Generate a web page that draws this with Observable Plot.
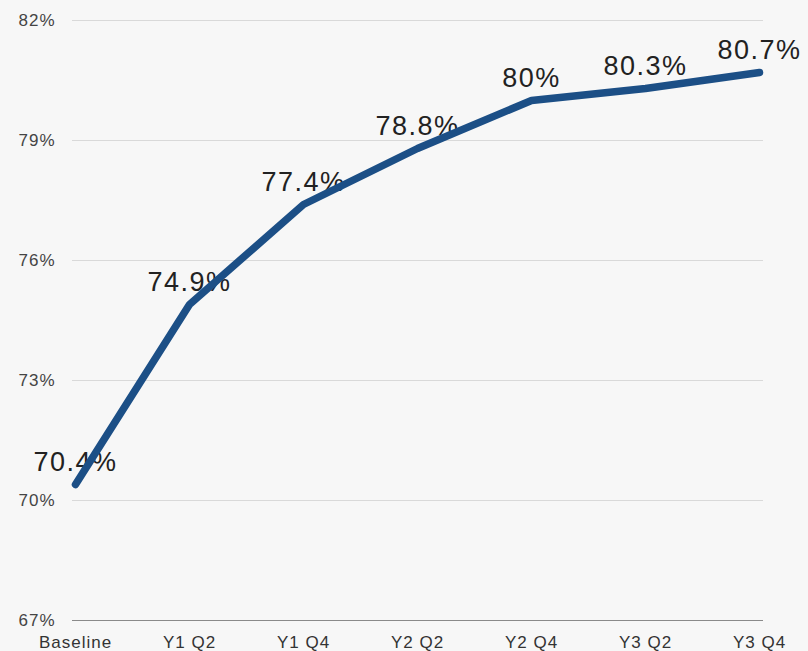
<!DOCTYPE html>
<html>
<head>
<meta charset="utf-8">
<script src="https://cdn.jsdelivr.net/npm/d3@7"></script>
<script src="https://cdn.jsdelivr.net/npm/@observablehq/plot@0.6"></script>
<style>
  html, body { margin: 0; padding: 0; background: #f7f7f7; }
  #chart svg { display: block; background: #f7f7f7; }
  .ticks-x text, .ticks-y text { letter-spacing: 1px; }
  .value-labels text { letter-spacing: 1.5px; }
</style>
</head>
<body>
<div id="chart"></div>
<script>
// Quarterly rate, baseline through year 3
const periods = ["Baseline", "Y1 Q2", "Y1 Q4", "Y2 Q2", "Y2 Q4", "Y3 Q2", "Y3 Q4"];
const rates = [70.4, 74.9, 77.4, 78.8, 80.0, 80.3, 80.7];
const rateLabels = ["70.4%", "74.9%", "77.4%", "78.8%", "80%", "80.3%", "80.7%"];
const yTicks = [67, 70, 73, 76, 79, 82];

const rows = periods.map((p, i) => ({period: p, rate: rates[i], label: rateLabels[i]}));

const chart = Plot.plot({
  width: 808,
  height: 651,
  marginTop: 20,
  marginBottom: 31,
  marginLeft: 73,
  marginRight: 48,
  style: {background: "#f7f7f7", fontFamily: "'Liberation Sans', Arial, sans-serif"},
  x: {type: "point", domain: periods, padding: 0, label: null},
  y: {domain: [67, 82], label: null},
  marks: [
    Plot.ruleY(yTicks.filter(t => t > 67), {stroke: "#d9d9d9", strokeWidth: 1, insetLeft: -1, insetRight: -3}),
    Plot.ruleY([67], {stroke: "#8a8a8a", strokeWidth: 1.2, insetLeft: -1, insetRight: -3}),
    Plot.axisY({ticks: yTicks, tickSize: 0, tickPadding: 18, fontSize: 17, fill: "#444",
      tickFormat: d => d + "%", label: null, className: "ticks-y"}),
    Plot.axisX({tickSize: 0, tickPadding: 15, fontSize: 17, fill: "#333", label: null, className: "ticks-x"}),
    Plot.text(rows, {x: "period", y: "rate", text: "label", dy: -22, fontSize: 27, fill: "#222",
      className: "value-labels"}),
    Plot.line(rows, {x: "period", y: "rate", stroke: "#1c4f86", strokeWidth: 7.5,
      strokeLinejoin: "round", strokeLinecap: "round"})
  ]
});

document.getElementById("chart").appendChild(chart);
</script>
</body>
</html>
